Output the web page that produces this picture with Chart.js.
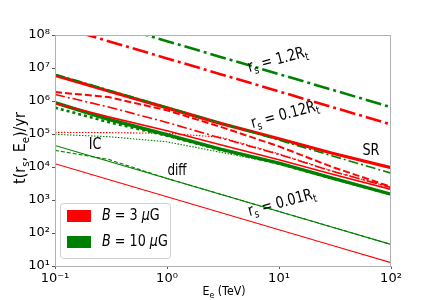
<!DOCTYPE html>
<html><head><meta charset="utf-8">
<script src="https://cdn.jsdelivr.net/npm/chart.js@4.4.1/dist/chart.umd.min.js"></script>
<style>html,body{margin:0;padding:0;background:#fff;}</style>
</head><body>
<canvas id="c" width="436" height="300"></canvas>
<script>
// ---- data (E in TeV, t in yr) ----
const energies = [0.1, 0.3, 1, 3, 10, 30, 100];
const xTickLabels = ['10\u207B\u00B9', '10\u2070', '10\u00B9', '10\u00B2'];
const yTickLabels = ['10\u00B9','10\u00B2','10\u00B3','10\u2074','10\u2075','10\u2076','10\u2077','10\u2078'];
// B = 3 muG (red)
const red_rs12   = [1.95e8, 6.5e7, 1.95e7, 6.5e6, 1.95e6, 6.5e5, 1.95e5];
const red_SR     = [6.0e6, 2.0e6, 6.2e5, 2.1e5, 7.2e4, 2.6e4, 9.5e3];
const red_dash   = [1.86e6, 1.32e6, 5.2e5, 1.66e5, 4.2e4, 1.0e4, 2.5e3];
const red_dd012  = [1.58e6, 6.6e5, 2.24e5, 7.6e4, 2.4e4, 7.4e3, 2.4e3];
const red_solid  = [8.5e5, 3.3e5, 1.26e5, 4.7e4, 1.66e4, 6.0e3, 2.1e3];
const red_IC     = [1.12e5, 1.1e5, 1.05e5, 8.0e4, 2.5e4, 7.5e3, 2.4e3];
const red_diff   = [1.26e4, 4.2e3, 1.26e3, 420, 126, 42, 12.6];
// B = 10 muG (green)
const green_rs12  = [6.5e8, 2.17e8, 6.5e7, 2.17e7, 6.5e6, 2.17e6, 6.5e5];
const green_dd012 = [6.5e6, 2.17e6, 6.5e5, 2.17e5, 6.5e4, 2.17e4, 6.5e3];
const green_thick = [8.9e5, 2.8e5, 9.5e4, 3.5e4, 1.32e4, 4.6e3, 1.5e3];
const green_dotk  = [6.3e5, 2.3e5, 8.9e4, 3.3e4, 1.26e4, 4.5e3, 1.48e3];
const green_IC    = [9.8e4, 8.3e4, 5.8e4, 2.8e4, 1.26e4, 4.5e3, 1.48e3];
const green_diff  = [4.5e4, 1.5e4, 4.5e3, 1.5e3, 450, 150, 45];
const green_diff2 = [3.2e4, 1.7e4, 4.5e3, 1.5e3, 450, 150, 45];

const RED = '#ff0000', GREEN = '#008000';
const pts = arr => energies.map((e, i) => ({x: e, y: arr[i]}));
function ds(arr, color, width, dash) {
  return {data: pts(arr), borderColor: color, borderWidth: width, borderDash: dash || [],
          pointRadius: 0, fill: false, tension: 0, borderCapStyle: 'butt'};
}
// first dataset is drawn on top
const datasets = [
  ds(green_dd012, GREEN, 1.6, [10, 3, 2, 3]),
  ds(red_SR, RED, 3.2),
  ds(green_rs12, GREEN, 2.6, [16, 4, 3, 4]),
  ds(red_rs12, RED, 2.6, [16, 4, 3, 4]),
  ds(red_dash, RED, 2, [7, 3]),
  ds(red_dd012, RED, 1.6, [10, 3, 2, 3]),
  ds(red_solid, RED, 1.6),
  ds(green_dotk, GREEN, 2.6, [3, 3]),
  ds(green_thick, GREEN, 3.4),
  ds(red_IC, RED, 1.1, [1.5, 1.5]),
  ds(green_IC, GREEN, 1.1, [1.5, 1.5]),
  ds(red_diff, RED, 1.1),
  ds(green_diff2, GREEN, 1.1, [4, 2]),
  ds(green_diff, GREEN, 1.1)
];

const isDecade = v => Math.abs(Math.log10(v) - Math.round(Math.log10(v))) < 1e-6;
const FONT = "'DejaVu Sans', sans-serif";

function drawRich(ctx, parts, x, y, angle, size, sq) {
  ctx.save();
  ctx.translate(x, y);
  ctx.rotate(angle * Math.PI / 180);
  ctx.scale(sq, 1);
  let w = 0;
  const fontOf = p => `${p.it ? 'italic ' : ''}${p.sub ? size * 0.7 : size}px ${FONT}`;
  parts.forEach(p => { ctx.font = fontOf(p); p.w = ctx.measureText(p.t).width; w += p.w; });
  let cx = -w / 2;
  ctx.fillStyle = '#000';
  ctx.textBaseline = 'middle';
  ctx.textAlign = 'left';
  parts.forEach(p => {
    ctx.font = fontOf(p);
    ctx.fillText(p.t, cx, p.sub ? size * 0.3 : 0);
    cx += p.w;
  });
  ctx.restore();
}
function drawRichLeft(ctx, parts, x, y, size, sq) {
  ctx.save();
  ctx.translate(x, y); ctx.scale(sq, 1);
  let cx = 0;
  ctx.fillStyle = '#000'; ctx.textBaseline = 'middle'; ctx.textAlign = 'left';
  parts.forEach(p => {
    ctx.font = `${p.it ? 'italic ' : ''}${size}px ${FONT}`;
    ctx.fillText(p.t, cx, 0);
    cx += ctx.measureText(p.t).width;
  });
  ctx.restore();
}

const deco = {
  id: 'deco',
  afterDatasetsDraw(chart) {
    const ctx = chart.ctx, a = chart.chartArea;
    ctx.save();
    ctx.strokeStyle = '#b0b0b0';
    ctx.lineWidth = 1;
    ctx.strokeRect(a.left + 0.5, a.top + 0.5, a.right - a.left - 1, a.bottom - a.top);
    const sq = 0.8;
    drawRich(ctx, [{t:'r'},{t:'s',sub:1},{t:' = 1.2R'},{t:'t',sub:1}], 278, 60, -15, 16, sq);
    drawRich(ctx, [{t:'r'},{t:'s',sub:1},{t:' = 0.12R'},{t:'t',sub:1}], 285, 115, -15, 16, sq);
    drawRich(ctx, [{t:'r'},{t:'s',sub:1},{t:' = 0.01R'},{t:'t',sub:1}], 282, 203, -15, 16, sq);
    drawRich(ctx, [{t:'SR'}], 371, 151, 0, 16, sq);
    drawRich(ctx, [{t:'IC'}], 95, 145, 0, 16, sq);
    drawRich(ctx, [{t:'diff'}], 177, 171, 0, 15, sq);
    drawRich(ctx, [{t:'E'},{t:'e',sub:1},{t:' (TeV)'}], 224, 292, 0, 13, 0.85);
    drawRich(ctx, [{t:'t(r'},{t:'s',sub:1},{t:', E'},{t:'e',sub:1},{t:')/yr'}], 21, 148, -90, 16, 0.9);
    // legend
    ctx.fillStyle = 'rgba(255,255,255,0.85)';
    ctx.strokeStyle = '#d0d0d0';
    ctx.beginPath();
    ctx.roundRect(60.5, 203.5, 110, 55, 3);
    ctx.fill(); ctx.stroke();
    ctx.fillStyle = RED; ctx.fillRect(67, 210, 24, 12);
    ctx.fillStyle = GREEN; ctx.fillRect(67, 236, 24, 12);
    drawRichLeft(ctx, [{t:'B',it:1},{t:' = 3 '},{t:'\u03BC',it:1},{t:'G'}], 102, 216, 15, 0.85);
    drawRichLeft(ctx, [{t:'B',it:1},{t:' = 10 '},{t:'\u03BC',it:1},{t:'G'}], 102, 242, 15, 0.85);
    ctx.restore();
  }
};

const tickGrid = {
  display: true, drawOnChartArea: false, drawTicks: true, tickLength: 3,
  tickColor: c => (c.tick && isDecade(c.tick.value)) ? '#555' : 'rgba(0,0,0,0)'
};

new Chart(document.getElementById('c'), {
  type: 'line',
  data: {datasets},
  options: {
    responsive: false, animation: false, devicePixelRatio: 1,
    layout: {padding: {left: 0, right: 45, top: 35, bottom: 0}},
    plugins: {legend: {display: false}, tooltip: {enabled: false}},
    scales: {
      x: {
        type: 'logarithmic', min: 0.1, max: 100,
        afterFit: s => { s.height = 34; },
        grid: tickGrid,
        border: {display: true, color: '#b0b0b0'},
        ticks: {
          autoSkip: false, maxRotation: 0, padding: 2, color: '#000',
          font: {family: FONT, size: 13},
          callback: v => isDecade(v) ? xTickLabels[Math.round(Math.log10(v)) + 1] : ''
        }
      },
      y: {
        type: 'logarithmic', min: 10, max: 1e8,
        afterFit: s => { s.width = 55; },
        grid: tickGrid,
        border: {display: true, color: '#b0b0b0'},
        ticks: {
          autoSkip: false, padding: 2, color: '#000',
          font: {family: FONT, size: 13},
          callback: v => isDecade(v) ? yTickLabels[Math.round(Math.log10(v)) - 1] : ''
        }
      }
    }
  },
  plugins: [deco]
});
</script>
</body></html>
